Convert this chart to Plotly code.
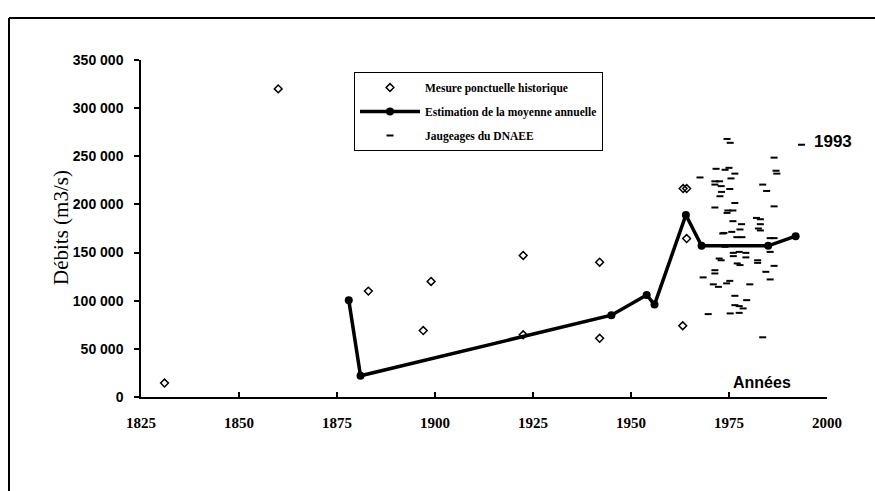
import plotly.graph_objects as go

# Mesure ponctuelle historique (open diamonds)
hist_years = [1831, 1860, 1883, 1897, 1899, 1922.5, 1922.5, 1942, 1942, 1963.3, 1964.2, 1964.2, 1963.2]
hist_vals = [14500, 320000, 110000, 69000, 120000, 147000, 64600, 140000, 61000, 216500, 216500, 164600, 74000]

# Estimation de la moyenne annuelle (line)
est_years = [1878, 1881, 1945, 1954, 1956, 1964, 1968, 1985, 1992]
est_vals = [100600, 22000, 85000, 106000, 96000, 189000, 157000, 157000, 167000]

# Jaugeages du DNAEE (dashes)
jaug_years = [1974.5, 1975.3, 1993.5, 1986.5, 1987, 1987.2, 1971.7, 1974, 1975, 1976.5,
              1967.6, 1971.4, 1972.6, 1975.5, 1971.4, 1973, 1975.2, 1983.6, 1984.6, 1973.1,
              1972.7, 1976.5, 1971.4, 1986.5, 1974.7, 1976, 1974.5, 1982, 1983, 1976,
              1978.2, 1983, 1982.5, 1983, 1973.7, 1975.7, 1977.8, 1977, 1978.3, 1973.4,
              1985.5, 1986.5, 1974, 1976.1, 1977.6, 1979.3, 1979.3, 1985.5, 1972.5, 1973,
              1976.1, 1977.1, 1977.8, 1982.3, 1982.3, 1986.5, 1971.4, 1971.4, 1968.4, 1984.4,
              1985.5, 1971, 1972.3, 1974.4, 1975.2, 1980.3, 1976.5, 1979.5, 1976.5, 1977.6,
              1978.6, 1975.3, 1977.6, 1969.7, 1983.6]
jaug_vals = [268000, 264000, 262000, 248600, 235000, 232000, 237000, 236000, 238000, 232000,
             228000, 224000, 224000, 227000, 220600, 219000, 216000, 220600, 214000, 213000,
             208500, 201500, 196800, 198000, 193700, 193700, 191200, 186000, 184600, 182600,
             179500, 179500, 175000, 173000, 170400, 171500, 174000, 166000, 166000, 169800,
             165000, 165000, 156000, 149700, 150700, 149700, 145000, 150700, 143800, 142000,
             146300, 138700, 137000, 142000, 139300, 136200, 131700, 128300, 124200, 130000,
             122100, 117000, 114400, 118000, 120600, 117000, 105100, 100600, 95400, 94400,
             92000, 86800, 87400, 86100, 62000]

x_ticks = [1825, 1850, 1875, 1900, 1925, 1950, 1975, 2000]
y_ticks = [0, 50000, 100000, 150000, 200000, 250000, 300000, 350000]

W, H = 875, 491
L, R, T, B = 141, 48, 60, 94
pw, ph = W - L - R, H - T - B

def px_x(p):
    return (p - L) / pw

def px_y(p):
    return (H - B - p) / ph

fig = go.Figure()
fig.add_trace(go.Scatter(
    x=hist_years, y=hist_vals, mode="markers", name="Mesure ponctuelle historique",
    legendgroup="a",
    marker=dict(symbol="diamond-open", size=6, color="black", line=dict(width=1.5, color="black")),
))
fig.add_trace(go.Scatter(
    x=est_years, y=est_vals, mode="lines+markers", name="Estimation de la moyenne annuelle",
    legendgroup="b",
    line=dict(color="black", width=3.5),
    marker=dict(symbol="circle", size=8, color="black"),
))
fig.add_trace(go.Scatter(
    x=jaug_years, y=jaug_vals, mode="markers", name="Jaugeages du DNAEE",
    legendgroup="c",
    marker=dict(symbol="line-ew", size=5, color="black", line=dict(width=2, color="black")),
))

fig.update_layout(
    width=W, height=H,
    margin=dict(l=L, r=R, t=T, b=B),
    paper_bgcolor="white", plot_bgcolor="white",
    separators=". ",
    showlegend=True,
    legend=dict(
        x=px_x(354), y=px_y(72), xanchor="left", yanchor="top",
        bordercolor="black", borderwidth=1, bgcolor="white",
        font=dict(family="Liberation Serif", size=11.5, color="black", weight="bold"),
        traceorder="grouped", tracegroupgap=5,
        itemwidth=60,
    ),
    xaxis=dict(
        range=[1825, 2000], tickvals=x_ticks, ticktext=[str(v) for v in x_ticks],
        showgrid=False, zeroline=False, showline=True, linecolor="black", linewidth=1.5,
        ticks="inside", ticklen=5, tickcolor="black", tickwidth=1.5,
        ticklabelstandoff=11,
        tickfont=dict(family="Liberation Serif", size=15, color="black", weight="bold"),
    ),
    yaxis=dict(
        range=[0, 350000], tickvals=y_ticks, tickformat=",d",
        showgrid=False, zeroline=False, showline=True, linecolor="black", linewidth=1.5,
        ticks="outside", ticklen=5, tickcolor="black", tickwidth=1.5,
        ticklabelstandoff=8,
        tickfont=dict(family="Liberation Sans", size=14, color="black", weight="bold"),
    ),
    annotations=[
        dict(text="Débits (m3/s)", xref="paper", yref="paper", x=px_x(61), y=px_y(228),
             textangle=-90, showarrow=False, xanchor="center", yanchor="middle",
             font=dict(family="Liberation Serif", size=21, color="black")),
        dict(text="Années", xref="paper", yref="paper", x=px_x(762), y=px_y(382),
             showarrow=False, xanchor="center", yanchor="middle",
             font=dict(family="Liberation Sans", size=16, color="black", weight="bold")),
        dict(text="1993", xref="paper", yref="paper", x=px_x(833), y=px_y(141),
             showarrow=False, xanchor="center", yanchor="middle",
             font=dict(family="Liberation Sans", size=17, color="black", weight="bold")),
    ],
    shapes=[
        dict(type="line", xref="paper", yref="paper", x0=px_x(9), x1=px_x(875), y0=px_y(18), y1=px_y(18),
             line=dict(color="black", width=2)),
        dict(type="line", xref="paper", yref="paper", x0=px_x(9), x1=px_x(9), y0=px_y(18), y1=px_y(491),
             line=dict(color="black", width=2)),
    ],
)

fig.write_html("out.html", config={"displayModeBar": False},
               post_script="document.body.style.margin='0';")
